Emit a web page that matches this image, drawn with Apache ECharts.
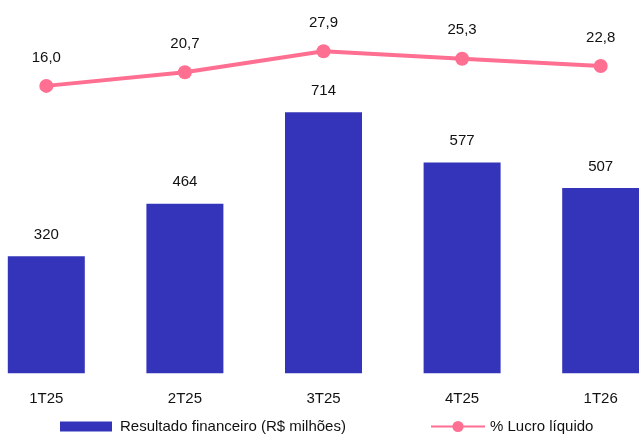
<!DOCTYPE html>
<html>
<head>
<meta charset="utf-8">
<script src="https://cdn.jsdelivr.net/npm/echarts@6/dist/echarts.min.js"></script>
<style>
html,body{margin:0;padding:0;background:#fff;overflow:hidden;width:639px;height:439px;}
#chart{position:absolute;left:-23px;top:0;width:693px;height:439px;}
</style>
</head>
<body>
<div id="chart"></div>
<script>
const categories = ['1T25', '2T25', '3T25', '4T25', '1T26'];
const resultadoFinanceiro = [320, 464, 714, 577, 507];
const lucroLiquidoPct = [16.0, 20.7, 27.9, 25.3, 22.8];
const seriesNames = ['Resultado financeiro (R$ milhões)', '% Lucro líquido'];

const FONT = 'Liberation Sans, Arial, sans-serif';
const BAR_COLOR = '#3434BB';
const LINE_COLOR = '#FF6F91';
const OFFSET = 23; // chart div is shifted 23px to the left

const chart = echarts.init(document.getElementById('chart'), null, {renderer: 'canvas'});
chart.setOption({
  animation: false,
  backgroundColor: '#ffffff',
  textStyle: {fontFamily: FONT},
  grid: {left: 0, right: 0, top: 20, bottom: 65.7, containLabel: false},
  legend: [
    {
      data: [seriesNames[0]],
      left: 60 + OFFSET, top: 419,
      itemWidth: 52, itemHeight: 10,
      icon: 'rect',
      textStyle: {fontSize: 15, color: '#111', fontFamily: FONT, padding: [0, 0, 0, 3]},
      itemGap: 5, padding: 0
    },
    {
      data: [seriesNames[1]],
      left: 430 + OFFSET, top: 419,
      itemWidth: 54, itemHeight: 14,
      textStyle: {fontSize: 15, color: '#111', fontFamily: FONT},
      padding: 0
    }
  ],
  xAxis: {
    type: 'category',
    data: categories,
    axisLine: {show: false},
    axisTick: {show: false},
    axisLabel: {fontSize: 15, color: '#111', margin: 18, fontFamily: FONT},
    splitLine: {show: false}
  },
  yAxis: [
    {type: 'value', min: 0, max: 966.6, show: false, splitLine: {show: false}},
    {type: 'value', min: -82.6, max: 38.6, show: false, splitLine: {show: false}}
  ],
  series: [
    {
      name: seriesNames[0],
      type: 'bar',
      yAxisIndex: 0,
      data: resultadoFinanceiro,
      barWidth: 77,
      itemStyle: {color: BAR_COLOR},
      label: {
        show: true, position: 'top', distance: 14,
        fontSize: 15, color: '#111', fontFamily: FONT,
        formatter: p => String(p.value)
      }
    },
    {
      name: seriesNames[1],
      type: 'line',
      yAxisIndex: 1,
      data: lucroLiquidoPct,
      symbol: 'circle',
      symbolSize: 14,
      lineStyle: {color: LINE_COLOR, width: 4},
      itemStyle: {color: LINE_COLOR},
      label: {
        show: true, position: 'top', distance: 14,
        fontSize: 15, color: '#111', fontFamily: FONT,
        formatter: p => p.value.toFixed(1).replace('.', ',')
      }
    }
  ]
});
</script>
</body>
</html>
